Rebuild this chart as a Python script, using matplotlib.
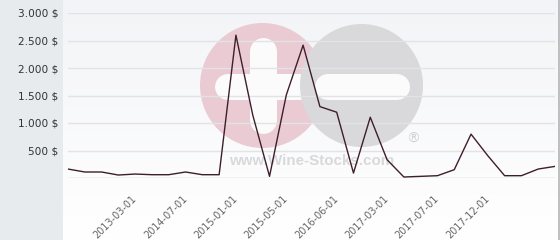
import numpy as np
import matplotlib
matplotlib.use("Agg")
import matplotlib.pyplot as plt
from matplotlib.patches import Rectangle, Circle
from matplotlib.colors import LinearSegmentedColormap
from matplotlib.ticker import FuncFormatter

# --- 数据 ---
prices = [163, 109, 109, 54, 72, 60, 60, 109, 60, 60,
          2597, 1147, 30, 1510, 2415, 1298, 1196, 90, 1105, 332,
          18, 30, 42, 151, 797, 405, 42, 42, 163, 211]
tick_idx = [4, 7, 10, 13, 16, 19, 22, 25]
tick_labels = ["2013-03-01", "2014-07-01", "2015-01-01", "2015-05-01",
               "2016-06-01", "2017-03-01", "2017-07-01", "2017-12-01"]
y_ticks = [500, 1000, 1500, 2000, 2500, 3000]

W, H = 560, 240
LINE_COLOR = "#3e1e2c"
GRID_COLOR = "#e2e3e6"
PANEL_COLOR = "#e8ebee"

plt.rcParams["font.family"] = "DejaVu Sans"

fig = plt.figure(figsize=(W / 100, H / 100), dpi=100, facecolor="white")

# 背景层（像素坐标）
bg = fig.add_axes([0, 0, 1, 1], zorder=0)
bg.set_xlim(0, W)
bg.set_ylim(H, 0)
bg.axis("off")

bg.add_patch(Rectangle((0, 0), 63, H, color=PANEL_COLOR, lw=0))
grad = LinearSegmentedColormap.from_list("bg", ["#f3f4f7", "#ffffff"])
bg.imshow(np.linspace(0, 1, 100).reshape(-1, 1), cmap=grad, aspect="auto",
          extent=[63, 559, H, 0], zorder=0)
bg.plot([559, 559], [0, H], color="#b4b4b6", lw=1.2, zorder=1)

# 水印 logo
pink, grey = "#eacbd3", "#d9d9db"
bg.add_patch(Circle((262.5, 85.5), 62.5, color=pink, lw=0, zorder=2))
px = 72 / 100  # 像素 -> 点
bg.plot([262.5, 262.5], [50.5, 119.5], color="#fbfbfc", lw=27 * px,
        solid_capstyle="round", zorder=3)
bg.plot([228, 300], [87, 87], color="#fbfbfc", lw=26 * px,
        solid_capstyle="round", zorder=3)
bg.add_patch(Circle((361.5, 85.5), 61.5, color=grey, lw=0, zorder=4))
bg.plot([328, 397], [87, 87], color="#fbfbfc", lw=26 * px,
        solid_capstyle="round", zorder=5)
bg.text(312, 161, "www.Wine-Stocks.com", family="Liberation Sans",
        weight="bold", fontsize=10.9, color="#d9d9db", ha="center",
        va="center", zorder=5)
bg.text(413, 139, "®", fontsize=10, color="#d2d2d4", ha="center",
        va="center", zorder=5)

# 主图
ax = fig.add_axes([68 / W, 62 / H, 487 / W, 165 / H], zorder=1)
ax.set_facecolor("none")
x = np.arange(len(prices))
ax.plot(x, prices, color=LINE_COLOR, lw=1.0, zorder=3)

ax.set_xlim(0, len(prices) - 1)
ax.set_ylim(0, 3000)
ax.set_yticks(y_ticks)
ax.yaxis.set_major_formatter(
    FuncFormatter(lambda v, _: f"{int(v):,} $".replace(",", ".")))
ax.tick_params(axis="y", length=0, pad=7, labelsize=7.6, labelcolor="#333333")
ax.grid(axis="y", color=GRID_COLOR, lw=1.0, zorder=1)
ax.axhline(0, color="#cacbcd", lw=1.0, zorder=2)

ax.set_xticks(tick_idx)
ax.set_xticklabels(tick_labels, rotation=45, ha="right", va="center",
                   rotation_mode="anchor", fontsize=7, color="#666666")
ax.tick_params(axis="x", length=0, pad=14)

for s in ax.spines.values():
    s.set_visible(False)

fig.savefig("out.png", dpi=100, facecolor="white")
